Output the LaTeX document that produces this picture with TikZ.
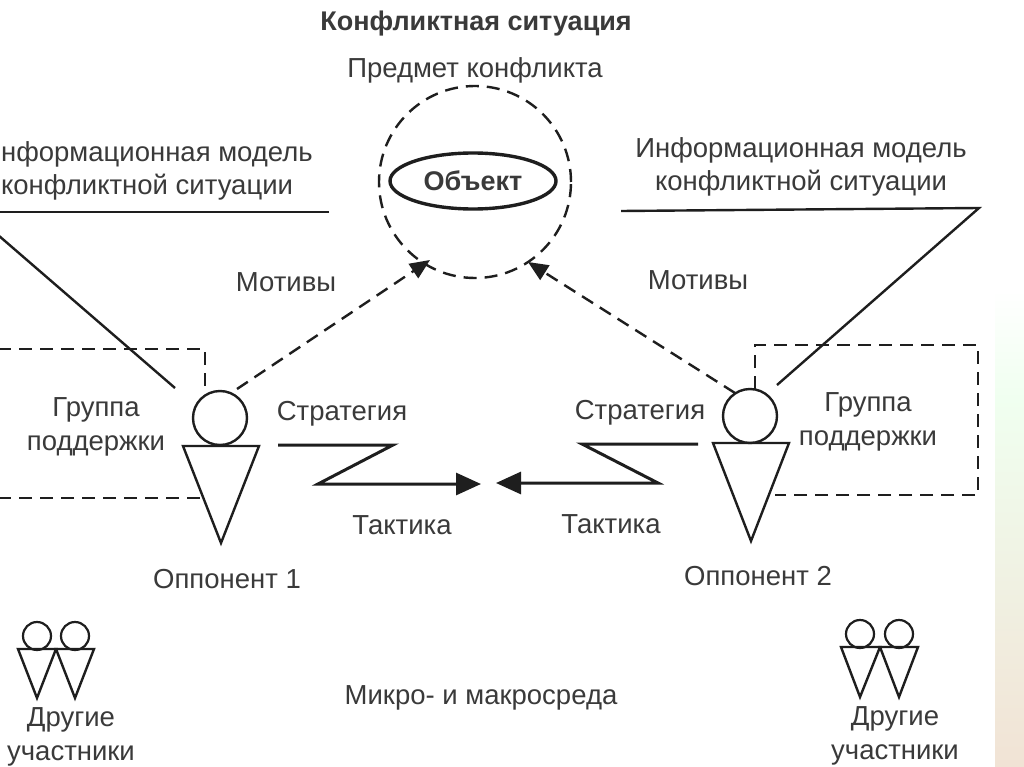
\documentclass[tikz,border=0pt]{standalone}
\usepackage{fontspec}
\setmainfont{Liberation Sans}
\usetikzlibrary{arrows.meta,shapes.geometric}
\definecolor{ink}{HTML}{1E1E1E}
\definecolor{txt}{HTML}{3A3A3A}
\tikzset{
 lbl/.style={font=\fontsize{27.5}{33.5}\selectfont,text=txt,inner sep=0pt,align=center},
 solidline/.style={line width=2.4pt,draw=ink},
 dashline/.style={line width=2.4pt,draw=ink,dash pattern=on 13pt off 8pt},
 arrowline/.style={line width=3pt,draw=ink,-{Triangle[length=25pt,width=22pt]}},
 dasharrow/.style={line width=2.4pt,draw=ink,dash pattern=on 13pt off 8pt,-{Triangle[length=20pt,width=17pt]}},
 head/.style={circle,draw=ink,line width=2.4pt,minimum size=54pt,inner sep=0pt},
 smallhead/.style={circle,draw=ink,line width=2.2pt,minimum size=28pt,inner sep=0pt},
}
\begin{document}
\begin{tikzpicture}[x=1pt,y=-1pt]
\useasboundingbox (0,0) rectangle (1024,767);
\clip (0,0) rectangle (1024,767);
\fill[white] (0,0) rectangle (1024,767);
\fill[top color=white,bottom color=green!6!white] (995,290) rectangle (1024,400);
\fill[top color=green!6!white,bottom color=brown!22!white] (995,400) rectangle (1024,767);
% title
\node[lbl,font=\fontsize{27}{32}\selectfont\bfseries] (title) at (476,24) {Конфликтная ситуация};
\node[lbl] (subj) at (475,70) {Предмет конфликта};
% subject circle and object
\node[circle,draw=ink,line width=2.4pt,dash pattern=on 13pt off 8pt,minimum size=192pt,inner sep=0pt] (subject) at (475,182) {};
\node[ellipse,draw=ink,line width=3.4pt,minimum width=166pt,minimum height=56pt,inner sep=0pt,font=\fontsize{27}{32}\selectfont\bfseries,text=txt] (object) at (473,181) {Объект};
% info models
\node[lbl] (infoL) at (147,171) {Информационная модель\\конфликтной ситуации};
\node[lbl] (infoR) at (801,167) {Информационная модель\\конфликтной ситуации};
\coordinate (mlA) at (329,212);
\coordinate (mlB) at (-2,212);
\coordinate (mlC) at (-2,235);
\coordinate (mlD) at (175,388);
\draw[solidline] (mlA) -- (mlB);
\draw[solidline] (mlC) -- (mlD);
\coordinate (mrA) at (621,211);
\coordinate (mrB) at (979,208);
\coordinate (mrC) at (777,385);
\draw[solidline,line join=miter] (mrA) -- (mrB) -- (mrC);
% opponents
\node[head] (h1) at (220,418) {};
\coordinate (t1a) at (183,446);
\coordinate (t1b) at (259,446);
\coordinate (t1c) at (221,543);
\draw[solidline,line join=miter] (t1a) -- (t1b) -- (t1c) -- cycle;
\node[head] (h2) at (750,416) {};
\coordinate (t2a) at (713,443);
\coordinate (t2b) at (789,443);
\coordinate (t2c) at (751,541);
\draw[solidline,line join=miter] (t2a) -- (t2b) -- (t2c) -- cycle;
% support group dashes
\coordinate (g1a) at (-2,349);
\coordinate (g1b) at (205,349);
\coordinate (g1c) at (205,390);
\coordinate (g1d) at (-2,498);
\coordinate (g1e) at (203,498);
\draw[dashline] (g1a) -- (g1b) -- (g1c);
\draw[dashline] (g1d) -- (g1e);
\coordinate (g2a) at (755,389);
\coordinate (g2b) at (755,345);
\coordinate (g2c) at (978,345);
\coordinate (g2d) at (978,495);
\coordinate (g2e) at (775,495);
\draw[dashline] (g2a) -- (g2b) -- (g2c) -- (g2d) -- (g2e);
% motive arrows
\coordinate (a1s) at (237,389);
\coordinate (a1e) at (430,260);
\coordinate (a2s) at (735,393);
\coordinate (a2e) at (528,262);
\draw[dasharrow] (a1s) -- (a1e);
\draw[dasharrow] (a2s) -- (a2e);
% tactic arrows
\coordinate (z1a) at (278,445);
\coordinate (z1b) at (393,445);
\coordinate (z1c) at (318,484);
\coordinate (z1d) at (481,484);
\draw[arrowline,line join=miter] (z1a) -- (z1b) -- (z1c) -- (z1d);
\coordinate (z2a) at (698,444);
\coordinate (z2b) at (582,444);
\coordinate (z2c) at (658,483);
\coordinate (z2d) at (496,483);
\draw[arrowline,line join=miter] (z2a) -- (z2b) -- (z2c) -- (z2d);
% small figures left
\node[smallhead] (s1) at (37,636) {};
\node[smallhead] (s2) at (75,636) {};
\coordinate (p1a) at (18,649); \coordinate (p1b) at (56,649); \coordinate (p1c) at (37,698);
\coordinate (p2b) at (94,649); \coordinate (p2c) at (75,698);
\draw[solidline,line join=miter] (p1a) -- (p1b) -- (p1c) -- cycle;
\draw[solidline,line join=miter] (p1b) -- (p2b) -- (p2c) -- cycle;
% small figures right
\node[smallhead] (s3) at (860,634) {};
\node[smallhead] (s4) at (899,634) {};
\coordinate (p3a) at (841,647); \coordinate (p3b) at (880,647); \coordinate (p3c) at (860,697);
\coordinate (p4b) at (918,647); \coordinate (p4c) at (899,697);
\draw[solidline,line join=miter] (p3a) -- (p3b) -- (p3c) -- cycle;
\draw[solidline,line join=miter] (p3b) -- (p4b) -- (p4c) -- cycle;
% labels
\node[lbl] (motL) at (286,282) {Мотивы};
\node[lbl] (motR) at (698,280) {Мотивы};
\node[lbl] (grL) at (96,427) {Группа\\поддержки};
\node[lbl] (grR) at (868,422) {Группа\\поддержки};
\node[lbl] (strL) at (342,414) {Стратегия};
\node[lbl] (strR) at (640,413) {Стратегия};
\node[lbl] (takL) at (402,525) {Тактика};
\node[lbl] (takR) at (611,524) {Тактика};
\node[lbl] (op1) at (227,579) {Оппонент 1};
\node[lbl] (op2) at (758,576) {Оппонент 2};
\node[lbl] (env) at (481,698) {Микро- и макросреда};
\node[lbl] (othL) at (71,737) {Другие\\участники};
\node[lbl] (othR) at (895,736) {Другие\\участники};
\end{tikzpicture}
\end{document}
